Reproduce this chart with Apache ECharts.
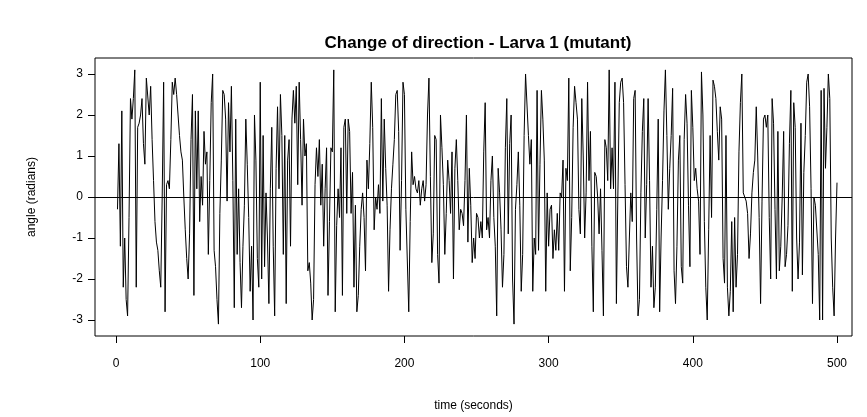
<!DOCTYPE html>
<html>
<head>
<meta charset="utf-8">
<script src="https://cdn.jsdelivr.net/npm/echarts@6/dist/echarts.min.js"></script>
<style>
html,body{margin:0;padding:0;background:#fff;}
#chart{width:867px;height:417px;}
</style>
</head>
<body>
<div id="chart"></div>
<script>
// Angle values (radians), one array per stretch of time
var angle_001_040 = [-0.3, 1.3, -1.2, 2.1, -2.2, -1.0, -2.5, -2.9, -0.5, 2.4, 1.9, 2.4, 3.1, -2.2, 1.7, 1.8, 2.0, 2.4, 1.3, 0.8, 2.9, 2.9, 2.0, 2.7, 1.4, 0.4, -0.6, -1.1, -1.3, -1.8, -2.2, 0.0, 2.8, -2.8, 0.3, 0.4, 0.2, 1.4, 2.8, 2.5];
var angle_041_082 = [2.9, 2.5, 2.0, 1.5, 1.1, 0.9, 0.0, -0.8, -1.5, -2.0, -0.9, 1.4, 2.5, -2.4, 2.1, 0.2, 2.1, -0.6, 0.5, -0.2, 1.6, 0.8, 1.1, -1.4, 0.4, 2.3, 3.0, -1.3, -1.7, -2.5, -3.1, -0.4, 0.9, 2.6, 2.5, 1.9, -0.1, 2.3, 1.1, 2.7, 0.4, -2.7];
var angle_083_124 = [1.9, -1.4, 0.2, -1.6, -2.7, -1.2, -0.2, 1.9, 0.8, -0.5, -2.3, -1.2, -3.0, 2.0, 0.9, -1.5, -2.2, 2.8, -2.0, 1.5, -1.7, 0.1, -1.0, -2.6, 0.2, 1.7, -1.2, -2.9, 0.7, 2.2, 0.2, 2.5, 1.5, -1.4, 1.5, -2.6, 0.9, 1.4, -1.2, 1.9, 2.6, 1.8];
var angle_125_166 = [2.7, 0.3, 2.8, 1.4, -0.2, 1.9, 1.0, 1.3, -1.8, -1.6, -2.1, -3.0, -2.5, 0.3, 1.2, 0.5, 1.4, -0.2, 0.8, -1.2, 0.2, 1.2, -2.4, -0.6, 1.2, 1.1, 3.1, -2.8, -0.7, 0.2, -0.5, 1.2, -2.4, 1.7, 1.9, -0.4, 1.9, 1.6, -0.4, 0.6, -2.2, -0.2];
var angle_167_208 = [-2.8, -2.4, -1.2, -0.3, 0.1, -0.5, -1.8, 0.9, 0.2, 1.3, 2.8, 1.7, -0.8, 0.0, -0.3, 0.3, -0.4, 2.4, -0.1, 1.9, 0.7, -0.2, -2.3, -0.8, 0.2, 0.8, 1.4, 2.5, 2.6, 1.6, -1.3, 0.4, 2.8, 2.5, -0.3, -0.3, -2.8, -0.6, 1.1, 0.3, 0.5, 0.2];
var angle_209_250 = [0.1, 0.4, -0.2, 0.2, 0.4, -0.1, 0.3, 2.0, 2.9, 0.5, -1.6, -0.9, 1.5, 1.4, -1.4, -2.1, 2.0, 1.2, 0.3, -1.4, -0.4, 0.9, 0.4, -0.4, 1.1, -2.0, 0.7, 1.4, 0.4, -0.8, -0.3, -0.4, -0.7, 0.4, 2.0, -1.1, 0.7, -0.2, -1.6, -1.0, -1.5, -0.4];
var angle_251_292 = [-0.5, -1.0, -0.6, -1.0, 1.1, 2.3, -0.8, -0.5, -1.0, 0.4, 1.0, -0.5, -1.2, -2.9, 0.7, 0.1, -0.8, -2.2, -1.4, 1.2, 2.4, -0.9, 1.3, 2.0, -2.0, -3.1, -0.3, 0.3, 1.1, -0.2, -2.3, -1.4, 1.5, 3.0, 3.0, 1.5, 0.8, 1.4, -2.3, -1.0, -1.4, 2.6];
var angle_293_334 = [-1.3, 0.8, 2.6, 1.9, 0.9, -2.3, 0.1, -1.2, -0.3, -0.2, -1.5, -0.8, -1.3, -0.4, -1.3, 0.1, 0.0, 0.9, -2.3, 0.7, 0.4, 2.9, -1.8, -0.5, 1.7, 2.7, 2.3, 1.9, -0.3, -0.9, 2.4, 1.0, -1.0, 0.1, 2.8, 0.4, 1.6, -1.2, -2.8, 0.6, 0.5, 0.0];
var angle_335_376 = [-0.9, 0.2, -1.3, -2.9, 1.4, 1.2, 0.4, 3.1, 0.2, 1.2, 0.2, 2.8, -2.6, 0.0, 2.3, 2.8, 2.9, 2.3, 0.3, -1.7, -2.2, -1.0, 0.1, -0.6, 2.4, 2.6, -1.0, -2.9, -2.5, 0.1, 1.6, 2.4, -1.0, 0.3, 2.4, 0.4, -2.2, -1.2, -2.7, -2.2, -0.3, 1.9];
var angle_377_418 = [-2.8, -1.0, 0.4, 2.1, 3.1, 1.5, -0.3, 0.7, 1.5, 2.65, -1.8, -2.6, -1.2, 0.9, 1.5, -1.7, -2.1, 1.4, 2.5, 1.8, -0.2, -1.7, 2.6, 1.7, 0.4, 0.7, 0.2, -0.1, -1.4, 3.05, 2.0, -0.6, -2.2, -3.0, -0.8, 1.5, -0.5, 2.85, 2.7, 2.4, 1.6, 0.9];
var angle_419_460 = [2.2, 1.9, -1.5, -2.1, 1.5, -2.2, -2.9, -2.3, -0.6, -2.8, -0.5, -2.2, -1.4, 1.1, 2.3, 3.0, 0.1, 0.0, -0.1, -0.4, -1.5, -0.9, 0.1, 0.6, 0.9, 2.2, 1.0, -0.5, -2.6, -0.1, 1.9, 2.0, 1.7, 2.0, -0.5, -2.0, 2.4, 1.8, -0.3, -2.0, 1.6, -1.8];
var angle_461_500 = [-1.2, 0.0, 1.6, -1.7, -1.4, -0.7, 1.3, 2.6, -2.3, 2.3, 1.7, -1.0, -2.0, -1.1, 1.8, -1.9, 0.6, 1.5, 2.8, 3.0, 2.2, 0.2, -2.6, 0.0, -0.2, -0.2, -1.4, -3.0, 2.6, -3.0, 2.65, 0.7, 1.7, 3.0, 2.4, -1.0, -2.2, -2.9, -1.0, 0.35];

var xTicks = [0, 100, 200, 300, 400, 500];
var yTicks = [-3, -2, -1, 0, 1, 2, 3];
var titleText = 'Change of direction - Larva 1 (mutant)';
var xName = 'time (seconds)';
var yName = 'angle (radians)';

var angles = [].concat(angle_001_040, angle_041_082, angle_083_124, angle_125_166,
  angle_167_208, angle_209_250, angle_251_292, angle_293_334, angle_335_376,
  angle_377_418, angle_419_460, angle_461_500);
var seriesData = angles.map(function (v, i) { return [i + 1, v]; });

var FONT = '"Liberation Sans", Arial, Helvetica, sans-serif';
var chart = echarts.init(document.getElementById('chart'), null, {renderer: 'canvas'});
chart.setOption({
  animation: false,
  backgroundColor: '#fff',
  title: {
    text: titleText,
    left: 473,
    top: 30,
    textAlign: 'center',
    textStyle: {fontFamily: FONT, fontSize: 17, fontWeight: 'bold', color: '#000'}
  },
  grid: {
    left: 95, right: 15, top: 58, bottom: 79,
    show: true, borderColor: '#000', borderWidth: 1, backgroundColor: 'transparent'
  },
  xAxis: {
    type: 'value',
    min: -14.6, max: 510.4,
    name: xName,
    nameLocation: 'middle',
    nameGap: 64,
    nameTextStyle: {fontFamily: FONT, fontSize: 12, color: '#000'},
    axisLine: {show: false, onZero: false},
    axisTick: {show: true, inside: false, length: 7, customValues: xTicks, lineStyle: {color: '#000'}},
    axisLabel: {customValues: xTicks, margin: 22, fontFamily: FONT, fontSize: 12, color: '#000'},
    splitLine: {show: false}
  },
  yAxis: {
    type: 'value',
    min: -3.39, max: 3.39,
    name: yName,
    nameLocation: 'middle',
    nameGap: 57,
    nameRotate: 90,
    nameTextStyle: {fontFamily: FONT, fontSize: 12, color: '#000'},
    axisLine: {show: false, onZero: false},
    axisTick: {show: true, inside: false, length: 7, customValues: yTicks, lineStyle: {color: '#000'}},
    axisLabel: {customValues: yTicks, margin: 12, fontFamily: FONT, fontSize: 12, color: '#000'},
    splitLine: {show: false}
  },
  series: [{
    type: 'line',
    data: seriesData,
    showSymbol: false,
    symbol: 'none',
    lineStyle: {color: '#000', width: 1},
    silent: true,
    markLine: {
      silent: true,
      symbol: 'none',
      label: {show: false},
      lineStyle: {color: '#000', width: 1, type: 'solid'},
      data: [{yAxis: 0}]
    }
  }]
});
</script>
</body>
</html>
